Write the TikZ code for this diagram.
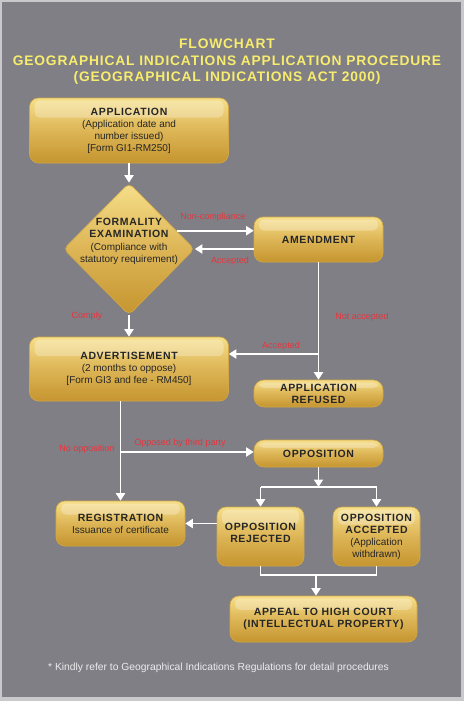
\documentclass[tikz,border=0pt]{standalone}
\usepackage{fontspec}
\setmainfont{Liberation Sans}
\usetikzlibrary{shapes.geometric,arrows.meta,calc}
\definecolor{bg}{HTML}{807F85}
\definecolor{frame}{HTML}{C9C9CB}
\definecolor{goldtop}{HTML}{F6DF8A}
\definecolor{goldmid}{HTML}{DDB556}
\definecolor{goldbot}{HTML}{C5952F}
\definecolor{goldedge}{HTML}{D2A845}
\definecolor{lblred}{HTML}{E8343C}
\definecolor{ttlyellow}{HTML}{F7EC6E}
\definecolor{notegray}{HTML}{ECECEE}
\newcommand{\bxt}[1]{{\bfseries\fontsize{10.5}{12.5}\selectfont\addfontfeature{LetterSpace=6}#1}}
\begin{document}
\begin{tikzpicture}[x=1pt,y=-1pt,
  gbox/.style={rounded corners=9pt, top color=goldtop, bottom color=goldbot, middle color=goldmid,
    draw=goldedge, line width=0.6pt, align=center, inner sep=1pt,
    font=\fontsize{10}{12}\selectfont, text=black!85,
    path picture={\fill[white,opacity=0.28,rounded corners=5pt]
      ($(path picture bounding box.north west)+(5,2.5)$) rectangle
      ($(path picture bounding box.north east)!0.3!(path picture bounding box.south east)+(-5,0)$);}},
  gdia/.style={diamond, shape aspect=1, inner sep=0pt, minimum width=131pt, minimum height=132pt,
    top color=goldtop, bottom color=goldbot, middle color=goldmid, draw=goldedge, line width=0.6pt,
    rounded corners=5pt},
  arr/.style={draw=white, line width=1.8pt, -{Triangle[width=9pt,length=7.5pt]}},
  wline/.style={draw=white, line width=1.8pt},
  lbl/.style={text=lblred, font=\fontsize{9}{10}\selectfont, inner sep=0pt},
  ttl/.style={text=ttlyellow, font=\bfseries\fontsize{13.8}{17}\selectfont\addfontfeature{LetterSpace=6}, inner sep=0pt}
]
\useasboundingbox (0,0) rectangle (464,701);
\fill[frame] (0,0) rectangle (464,701);
\fill[bg] (2,2) rectangle (461,697);

% title
\node[ttl] (t1) at (227,44) {FLOWCHART};
\node[ttl] (t2) at (227,61) {GEOGRAPHICAL INDICATIONS APPLICATION PROCEDURE};
\node[ttl] (t3) at (227,78) {(GEOGRAPHICAL INDICATIONS ACT 2000)};

% boxes
\node[gbox, minimum width=199pt, minimum height=65pt] (app) at (129,130.5)
  {\bxt{APPLICATION}\\(Application date and\\number issued)\\{[}Form GI1-RM250]};
\node[gdia] (dia) at (129,249) {};
\node[align=center, inner sep=0pt, font=\fontsize{10}{12.3}\selectfont, text=black!85] (diatext) at (129,241.5)
  {\bxt{FORMALITY}\\\bxt{EXAMINATION}\\(Compliance with\\statutory requirement)};
\node[gbox, minimum width=129pt, minimum height=45pt] (amend) at (318.5,239.5) {\bxt{AMENDMENT}};
\node[gbox, minimum width=199pt, minimum height=64pt] (advert) at (129,369)
  {\bxt{ADVERTISEMENT}\\(2 months to oppose)\\{[}Form GI3 and fee - RM450]};
\node[gbox, minimum width=129pt, minimum height=27pt, rounded corners=10pt] (refused) at (318.5,393.5)
  {\bxt{APPLICATION}\\\bxt{REFUSED}};
\node[gbox, minimum width=129pt, minimum height=27pt, rounded corners=10pt] (oppos) at (318.5,453.5)
  {\bxt{OPPOSITION}};
\node[gbox, minimum width=129pt, minimum height=45pt] (reg) at (120.5,523.5)
  {\bxt{REGISTRATION}\\Issuance of certificate};
\node[gbox, minimum width=87pt, minimum height=59pt] (rej) at (260.5,536.5)
  {\bxt{OPPOSITION}\\\bxt{REJECTED}\\[-5pt]\mbox{}};
\node[gbox, minimum width=87pt, minimum height=59pt] (acc) at (376.5,536.5)
  {\bxt{OPPOSITION}\\\bxt{ACCEPTED}\\(Application\\withdrawn)};
\node[gbox, minimum width=187pt, minimum height=46pt] (appeal) at (323.5,619)
  {\bxt{APPEAL TO HIGH COURT}\\\bxt{(INTELLECTUAL PROPERTY)}};

% connectors
\draw[arr] (app.south) -- (dia.north);
\draw[arr] (dia.21) -- (dia.21 -| amend.west);
\draw[arr] (amend.west |- dia.east) -- (dia.east);
\coordinate (br1) at (318.5,354);
\draw[arr] (amend.south) -- (refused.north);
\draw[arr] (br1) -- (br1 -| advert.east);
\draw[arr] (dia.south) -- (advert.north);
\coordinate (br2) at (121,452);
\draw[arr] (reg.north |- advert.south) -- (reg.north);
\draw[arr] (br2) -- (br2 -| oppos.west);
\coordinate (br3) at (318.5,487);
\draw[arr] (oppos.south) -- (br3);
\draw[wline] (rej.north |- br3) -- (acc.north |- br3);
\draw[arr] (rej.north |- br3) -- (rej.north);
\draw[arr] (acc.north |- br3) -- (acc.north);
\draw[arr] (rej.west |- reg.east) -- (reg.east);
\coordinate (br4) at (316,575);
\draw[wline] (rej.south) -- (rej.south |- br4) -- (acc.south |- br4) -- (acc.south);
\draw[arr] (br4) -- (br4 |- appeal.north);

% labels
\node[lbl] (l1) at (213,217) {Non-compliance};
\node[lbl] (l2) at (230,261) {Accepted};
\node[lbl] (l3) at (362,317) {Not accepted};
\node[lbl] (l4) at (281,346) {Accepted};
\node[lbl] (l5) at (87,316) {Comply};
\node[lbl] (l6) at (180,443) {Opposed by third party};
\node[lbl] (l7) at (87,449) {No opposition};

% footnote
\node[text=notegray, font=\fontsize{10.3}{12}\selectfont, inner sep=0pt] (note) at (218.5,668)
  {* Kindly refer to Geographical Indications Regulations for detail procedures};
\end{tikzpicture}
\end{document}
